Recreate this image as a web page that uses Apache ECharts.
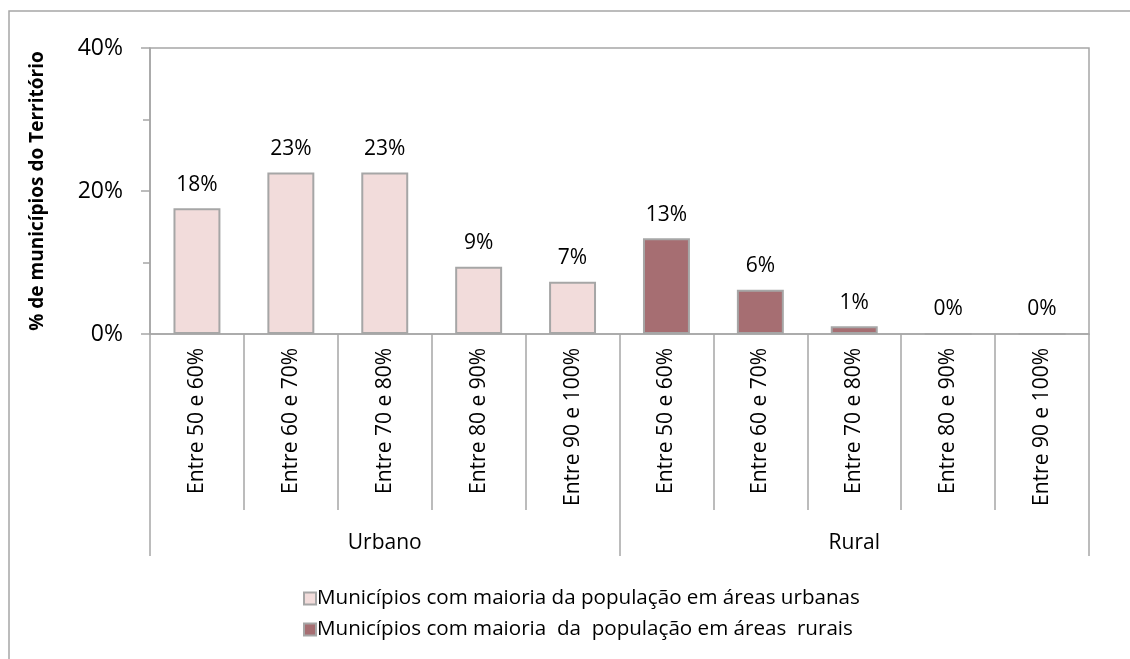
<!DOCTYPE html>
<html>
<head>
<meta charset="utf-8">
<script src="https://cdn.jsdelivr.net/npm/echarts@6/dist/echarts.min.js"></script>
<style>
  html, body { margin: 0; padding: 0; background: #fff; }
  #chart { width: 1130px; height: 659px; }
</style>
</head>
<body>
<div id="chart"></div>
<script>
// faixas de população, repetidas para cada grupo
var categorias = ['Entre 50 e 60%', 'Entre 60 e 70%', 'Entre 70 e 80%', 'Entre 80 e 90%', 'Entre 90 e 100%',
                  'Entre 50 e 60%', 'Entre 60 e 70%', 'Entre 70 e 80%', 'Entre 80 e 90%', 'Entre 90 e 100%'];
var grupos = ['Urbano', 'Rural'];
var urbanos = [17.6, 22.6, 22.6, 9.4, 7.3, null, null, null, null, null];
var rurais = [null, null, null, null, null, 13.4, 6.2, 1.1, 0, 0];
var legendas = ['Municípios com maioria da população em áreas urbanas',
                'Municípios com maioria  da  população em áreas  rurais'];
var yTicks = [0, 20, 40];

var fonte = '"Open Sans", "Noto Sans", sans-serif';
var cinza = '#a6a6a6';

var chart = echarts.init(document.getElementById('chart'));
chart.setOption({
    backgroundColor: '#fff',
    textStyle: { fontFamily: fonte, color: '#000' },
    animation: false,
    graphic: [{
        type: 'rect',
        shape: { x: 9, y: 11, width: 1200, height: 700 },
        style: { fill: 'none', stroke: cinza, lineWidth: 1.5 },
        silent: true
    }],
    grid: {
        left: 150, top: 48, right: 41, bottom: 325,
        show: true, borderColor: cinza, borderWidth: 1.5, backgroundColor: 'transparent'
    },
    legend: {
        orient: 'vertical',
        left: 298, top: 583,
        itemWidth: 12, itemHeight: 12, itemGap: 10,
        icon: 'rect',
        textStyle: { fontFamily: fonte, fontSize: 20.6, color: '#000', padding: [0, 0, 0, -4] },
        data: legendas
    },
    xAxis: [{
        type: 'category',
        data: categorias,
        axisLine: { lineStyle: { color: cinza, width: 1.5 } },
        axisTick: { show: true, interval: 0, length: 176, lineStyle: { color: cinza, width: 1.5 } },
        axisLabel: { interval: 0, rotate: 90, margin: 14, fontSize: 21, color: '#000', fontFamily: fonte }
    }, {
        type: 'category',
        data: grupos,
        position: 'bottom',
        axisLine: { show: false },
        axisTick: { show: true, interval: 0, length: 222, lineStyle: { color: cinza, width: 1.5 } },
        axisLabel: { interval: 0, margin: 199, fontSize: 21, color: '#000', fontFamily: fonte }
    }],
    yAxis: {
        type: 'value',
        min: yTicks[0], max: yTicks[yTicks.length - 1], interval: 20,
        name: '% de municípios do Território',
        nameLocation: 'middle',
        nameRotate: 90,
        nameGap: 103,
        nameTextStyle: { fontSize: 19, fontWeight: 'bold', color: '#000', fontFamily: fonte },
        axisLine: { show: true, lineStyle: { color: cinza, width: 1.5 } },
        axisTick: { show: true, length: 9, lineStyle: { color: cinza, width: 1.5 } },
        minorTick: { show: true, splitNumber: 2, length: 7, lineStyle: { color: cinza, width: 1.5 } },
        splitLine: { show: false },
        axisLabel: { margin: 27, fontSize: 23, color: '#000', fontFamily: fonte,
            formatter: function (v) { return v + '%'; } }
    },
    series: [{
        name: legendas[0],
        type: 'bar',
        data: urbanos,
        barWidth: '50%',
        barGap: '-100%',
        itemStyle: { color: '#f2dcdb', borderColor: cinza, borderWidth: 2 },
        label: { show: true, position: 'top', distance: 13, fontSize: 21, color: '#000', fontFamily: fonte,
            formatter: function (p) { return Math.round(p.value) + '%'; } }
    }, {
        name: legendas[1],
        type: 'bar',
        data: rurais,
        barWidth: '50%',
        barGap: '-100%',
        itemStyle: { color: '#a66e72', borderColor: cinza, borderWidth: 2 },
        label: { show: true, position: 'top', distance: 13, fontSize: 21, color: '#000', fontFamily: fonte,
            formatter: function (p) { return Math.round(p.value) + '%'; } }
    }]
});
</script>
</body>
</html>
